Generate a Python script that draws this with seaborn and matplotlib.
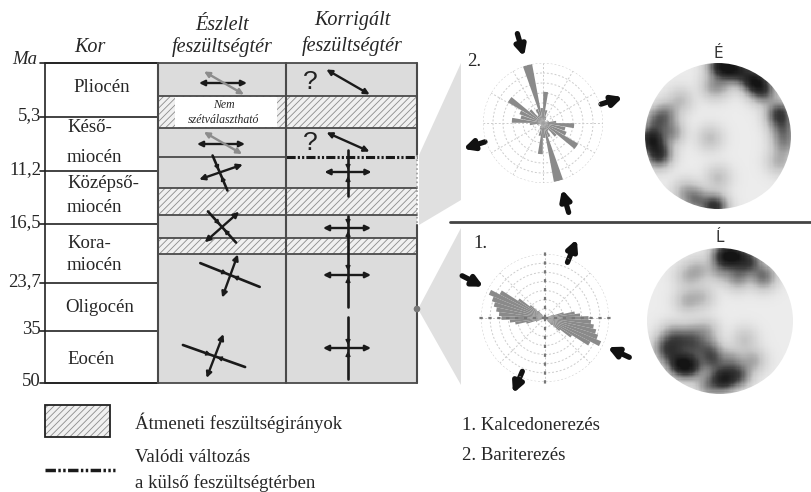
import numpy as np
import matplotlib
matplotlib.use("Agg")
import matplotlib.pyplot as plt
import seaborn as sns
from matplotlib.patches import Rectangle, Polygon, Circle

# --- adatok ---
ages = [0, 5.3, 11.2, 16.5, 23.7, 35, 50]
age_labels = ["Ma", "5,3", "11,2", "16,5", "23,7", "35", "50"]
epochs = [["Pliocén"], ["Késő-", "miocén"], ["Középső-", "miocén"],
          ["Kora-", "miocén"], ["Oligocén"], ["Eocén"]]
stress_rows = ["stress", "transition", "stress", "stress",
               "transition", "stress", "transition", "stress"]

# rózsadiagramok (azimut fok, relatív hossz), kétirányú
rose2_az = [5, 15, 25, 35, 45, 55, 65, 75, 85, 95, 105, 115, 125, 135, 145, 155, 165, 175]
rose2_len = [0.52, 0.22, 0.12, 0.08, 0.05, 0.05, 0.05, 0.1, 0.22, 0.52, 0.38, 0.42, 0.68, 0.3, 0.15, 0.25, 1.0, 0.25]
rose1_az = [70, 75, 80, 85, 90, 95, 100, 105, 110, 115, 120, 125, 130, 135]
rose1_len = [0.15, 0.3, 0.47, 0.55, 0.68, 0.72, 0.77, 0.82, 0.87, 0.95, 0.8, 0.5, 0.3, 0.15]

# feszültség nyilak a rózsák körül: (azimut, r_kezdet, r_vég)
rose2_arrows = [(344, 93, 69), (164, 93, 69), (72, 61, 84), (252, 61, 84)]
rose1_arrows = [(22, 60, 85), (203, 58, 82), (297, 93, 69), (115, 93, 69)]

# sztereogram pólus-csoportok (x, y, súly)
poles_top = [(0.02, 0.97, 4), (0.15, 0.95, 5), (0.3, 0.9, 3.5), (0.45, 0.8, 3),
             (0.55, 0.72, 5), (0.65, 0.6, 2.5), (0.85, 0.3, 4.5), (0.9, 0.1, 2.5),
             (0.92, -0.1, 2), (0.85, -0.35, 1.2), (-0.92, -0.05, 6), (-0.82, -0.25, 5),
             (-0.85, 0.2, 2.5), (-0.65, 0.05, 2), (-0.72, 0.3, 2), (-0.05, -0.98, 5),
             (-0.3, -0.88, 2.5), (-0.45, -0.78, 1.2), (-0.07, 0.68, 1.2), (0.05, 0.72, 1),
             (-0.52, 0.49, 0.9), (-0.11, -0.03, 0.9), (0.0, -0.58, 0.9)]
poles_bot = [(0.05, 0.9, 4), (0.2, 0.9, 5), (0.4, 0.82, 3.5), (0.6, 0.62, 2.5),
             (0.25, 0.62, 2), (0.0, 0.7, 1.2), (-0.3, 0.7, 1), (-0.45, 0.62, 0.8),
             (-0.45, 0.28, 1), (-0.25, 0.33, 0.8), (0.34, -0.26, 0.7),
             (-0.55, -0.6, 5), (-0.4, -0.62, 4), (-0.7, -0.45, 2), (-0.65, -0.2, 1.5),
             (-0.4, -0.2, 1.5), (-0.2, -0.15, 1.2), (-0.15, -0.4, 2), (0.05, -0.8, 5),
             (0.25, -0.75, 3), (0.45, -0.55, 1.2), (-0.15, -0.88, 2),
             (-0.75, -0.35, 2), (-0.55, -0.3, 2), (-0.35, -0.35, 2), (-0.1, -0.55, 2.5),
             (0.15, -0.55, 1.5)]

# --- elrendezés (pixel) ---
W, H = 811, 492
age_y = [63, 117, 171, 224, 283, 331, 383]
row_y = [63, 96, 128, 157, 188, 215, 238, 254, 383]
col_x = [45, 158, 286, 417]
epoch_pos = [[(102, 88)], [(67, 127), (67, 158)], [(67, 184), (67, 207)],
             [(67, 243), (67, 265)], [(65, 308)], [(67, 360)]]
# tábla szimbólumok: (x, y, szög, fél-hossz, típus, szín)
symbols = [
    (223, 83, 0, 24, "out", "k"), (224, 83, -30, 23, "out", "#8c8c8c"),
    (221, 144, 0, 24, "out", "k"), (223, 143, -30, 22, "out", "#8c8c8c"),
    (221, 172, 19, 23, "out", "k"), (220, 173, -67, 19, "in", "k"),
    (222, 227, 41.5, 23, "out", "k"), (222, 227, -48, 21, "in", "k"),
    (230, 275, -21.8, 32, "in", "k"), (230, 276, 70, 23, "out", "k"),
    (214, 356, -19.5, 33, "in", "k"), (215, 356, 69, 23.5, "out", "k"),
    (348, 82, -30, 25, "out", "k"), (348, 142, -24, 23.5, "out", "k"),
    (348, 172, 0, 23.5, "out", "k"), (348, 173, 90, 23, "in", "k"),
    (347, 228, 0, 24, "out", "k"), (348, 228, 90, 12, "in", "k"),
    (347, 275, 0, 24, "out", "k"), (348, 274, 90, 33, "in", "k"),
    (347, 348, 0, 24, "out", "k"), (348, 348, 90, 31, "in", "k"),
]

sns.set_theme(style="white")
plt.rcParams['font.family'] = ['Liberation Serif', 'DejaVu Serif']
plt.rcParams['hatch.linewidth'] = 0.6

fig = plt.figure(figsize=(W / 100, H / 100), dpi=100)
ax = fig.add_axes([0, 0, 1, 1])
ax.set_xlim(0, W)
ax.set_ylim(H, 0)
ax.axis('off')

FS = 13.5
GREY = '#dcdcdc'
LINE = '#4a4a4a'

# szürke ékek
ax.add_patch(Polygon([(461, 63), (419, 155), (419, 225), (461, 200)], fc='#e0e0e0', ec='none', zorder=0))
ax.add_patch(Polygon([(461, 228), (418, 309), (461, 385)], fc='#e0e0e0', ec='none', zorder=0))

# kor oszlop
ax.add_patch(Rectangle((col_x[0], age_y[0]), col_x[1] - col_x[0], age_y[-1] - age_y[0],
                       fc='white', ec='#222222', lw=1.2, zorder=1))
for yy, lab in zip(age_y, age_labels):
    ax.plot([40, col_x[1]], [yy, yy], color='#222222', lw=1.2, zorder=2)
    if lab == "Ma":
        ax.text(25, yy - 3, lab, ha='center', va='center', fontsize=FS, style='italic')
    else:
        ax.text(41, yy - 1, lab, ha='right', va='center', fontsize=FS)
for lines, pos in zip(epochs, epoch_pos):
    for t, (px, py) in zip(lines, pos):
        ax.text(px, py, t, ha='center' if t == "Pliocén" else 'left',
                va='center', fontsize=FS)

# feszültség oszlopok
ax.add_patch(Rectangle((col_x[1], row_y[0]), col_x[3] - col_x[1], row_y[-1] - row_y[0],
                       fc=GREY, ec='none', zorder=1))
for kind, y0, y1 in zip(stress_rows, row_y[:-1], row_y[1:]):
    if kind == "transition":
        ax.add_patch(Rectangle((col_x[1], y0), col_x[3] - col_x[1], y1 - y0, fc='#f0f0f0',
                               ec='#8c8c8c', lw=0, hatch='/////', zorder=1.5))
ax.add_patch(Rectangle((175, 97), 102, 30, fc='white', ec='none', zorder=2))
ax.text(224, 105, "Nem", ha='center', va='center', fontsize=8.5, style='italic', zorder=3)
ax.text(224, 120, "szétválasztható", ha='center', va='center', fontsize=8.5, style='italic', zorder=3)

for yy in row_y:
    if yy == 157:
        ax.plot([col_x[1], col_x[2]], [yy, yy], color=LINE, lw=1.3, zorder=3)
        ax.plot([col_x[2], col_x[3]], [yy, yy], color='k', lw=2.2,
                ls=(0, (3, 0.7, 0.7, 0.7, 0.7, 0.7)), zorder=3)
    else:
        ax.plot([col_x[1], col_x[3]], [yy, yy], color=LINE, lw=1.3, zorder=3)
for xx in col_x[1:3]:
    ax.plot([xx, xx], [row_y[0], row_y[-1]], color=LINE, lw=1.5, zorder=3)
ax.plot([417, 417], [63, 155], color=LINE, lw=1.5, zorder=3)
ax.plot([417, 417], [155, 225], color='#9a9a9a', lw=1.2, ls=':', zorder=3)
ax.plot([417, 417], [225, 383], color=LINE, lw=1.5, zorder=3)
ax.add_patch(Circle((417, 309), 2.6, color='#777777', zorder=4))

for qy in (82, 143):
    ax.text(310, qy, "?", ha='center', va='center', fontsize=19,
            family=['Liberation Sans'], color='#222222', zorder=4)


def stress_axis(x, y, ang, half, style, color):
    a = np.deg2rad(ang)
    ux, uy = np.cos(a), -np.sin(a)
    p0 = (x - half * ux, y - half * uy)
    p1 = (x + half * ux, y + half * uy)
    if style == "out":
        ax.annotate('', xy=p1, xytext=p0, zorder=5,
                    arrowprops=dict(arrowstyle='<|-|>', color=color, lw=1.7,
                                    mutation_scale=8, shrinkA=0, shrinkB=0))
    else:
        ax.plot([p0[0], p1[0]], [p0[1], p1[1]], color=color, lw=1.9, zorder=5)
        for s in (1, -1):
            ax.annotate('', xy=(x + s * 3 * ux, y + s * 3 * uy),
                        xytext=(x + s * 9 * ux, y + s * 9 * uy), zorder=5,
                        arrowprops=dict(arrowstyle='-|>', color=color, lw=1.0,
                                        mutation_scale=7, shrinkA=0, shrinkB=0))


for s in symbols:
    stress_axis(*s)

# fejlécek
HFS = 14.5
ax.text(90, 47, "Kor", ha='center', va='center', fontsize=HFS, style='italic')
ax.text(222, 25, "Észlelt", ha='center', va='center', fontsize=HFS, style='italic')
ax.text(222, 47, "feszültségtér", ha='center', va='center', fontsize=HFS, style='italic')
ax.text(352, 21, "Korrigált", ha='center', va='center', fontsize=HFS, style='italic')
ax.text(352, 46, "feszültségtér", ha='center', va='center', fontsize=HFS, style='italic')

# jelmagyarázat
ax.add_patch(Rectangle((45, 405), 65, 32, fc='#f0f0f0', ec='#8c8c8c', lw=0, hatch='/////', zorder=1))
ax.add_patch(Rectangle((45, 405), 65, 32, fill=False, ec='#222222', lw=1.3, zorder=2))
ax.text(135, 423, "Átmeneti feszültségirányok", ha='left', va='center', fontsize=FS)
ax.plot([45, 115], [470, 470], color='k', lw=2.5, ls=(0, (3, 0.7, 0.7, 0.7, 0.7, 0.7)))
ax.text(135, 457, "Valódi változás", ha='left', va='center', fontsize=FS)
ax.text(135, 483, "a külső feszültségtérben", ha='left', va='center', fontsize=FS)
ax.text(462, 425, "1. Kalcedonerezés", ha='left', va='center', fontsize=FS)
ax.text(462, 455, "2. Bariterezés", ha='left', va='center', fontsize=FS)

ax.plot([450, W], [222, 222], color='#444444', lw=2)
ax.text(474, 62, "2.", ha='center', va='center', fontsize=FS)
ax.text(480, 243, "1.", ha='center', va='center', fontsize=FS)


def rose(cx, cy, R, az, lens, width, arrows, bold_axes):
    pax = fig.add_axes([(cx - R) / W, 1 - (cy + R) / H, 2 * R / W, 2 * R / H], projection='polar')
    pax.set_theta_zero_location('N')
    pax.set_theta_direction(-1)
    az_all = np.deg2rad(np.concatenate([az, np.array(az) + 180]))
    pax.bar(az_all, np.concatenate([lens, lens]), width=np.deg2rad(width),
            color='#8a8a8a', edgecolor='none', zorder=3)
    pax.set_ylim(0, 1)
    pax.set_rticks(np.linspace(1 / 7 if bold_axes else 1 / 6, 1, 7 if bold_axes else 6))
    pax.set_yticklabels([])
    pax.set_thetagrids(range(0, 360, 45 if bold_axes else 30), labels=[])
    pax.grid(True, color='#cccccc', ls=(0, (2, 2)), lw=0.7)
    pax.spines['polar'].set_visible(False)
    pax.patch.set_alpha(0)
    if bold_axes:
        for t in (0, 90, 180, 270):
            pax.plot([np.deg2rad(t)] * 2, [0, 1.03], color='#777777', ls=(0, (1.5, 2.5)),
                     lw=1.6, zorder=4, clip_on=False)
    for a, r0, r1 in arrows:
        t = np.deg2rad(a)
        ax.annotate('', xy=(cx + r1 * np.sin(t), cy - r1 * np.cos(t)),
                    xytext=(cx + r0 * np.sin(t), cy - r0 * np.cos(t)),
                    arrowprops=dict(arrowstyle='-|>', color='#111111', lw=3.8,
                                    mutation_scale=15, shrinkA=0, shrinkB=0))


rose(543, 123, 60, rose2_az, rose2_len, 9, rose2_arrows, False)
rose(545, 318, 64, rose1_az, rose1_len, 5, rose1_arrows, True)

net_cmap = sns.blend_palette(['#ececec', '#c9c9c9', '#8a8a8a', '#3a3a3a', '#141414'], as_cmap=True)


def stereonet(cx, cy, R, poles, label, n=121, bw=0.11):
    sax = fig.add_axes([(cx - R) / W, 1 - (cy + R) / H, 2 * R / W, 2 * R / H])
    g = np.linspace(-1, 1, n)
    X, Y = np.meshgrid(g, g[::-1])
    Z = np.zeros_like(X)
    for px, py, w in poles:
        Z += w * np.exp(-((X - px) ** 2 + (Y - py) ** 2) / (2 * bw ** 2))
    Z = (Z / Z.max()) ** 0.6
    sns.heatmap(Z, cmap=net_cmap, vmin=0, vmax=0.92, cbar=False,
                xticklabels=False, yticklabels=False, ax=sax)
    circ = Circle((n / 2, n / 2), n / 2, fc='none', ec='none')
    sax.add_patch(circ)
    for c in sax.collections:
        c.set_clip_path(circ)
    sax.axis('off')
    ax.text(cx, cy - R - 10, label, ha='center', va='center', fontsize=11,
            family=['DejaVu Sans'], color='#333333')


stereonet(718, 136, 73, poles_top, "É")
stereonet(720, 321, 73, poles_bot, "Ĺ")

fig.savefig("out.png", dpi=100)
